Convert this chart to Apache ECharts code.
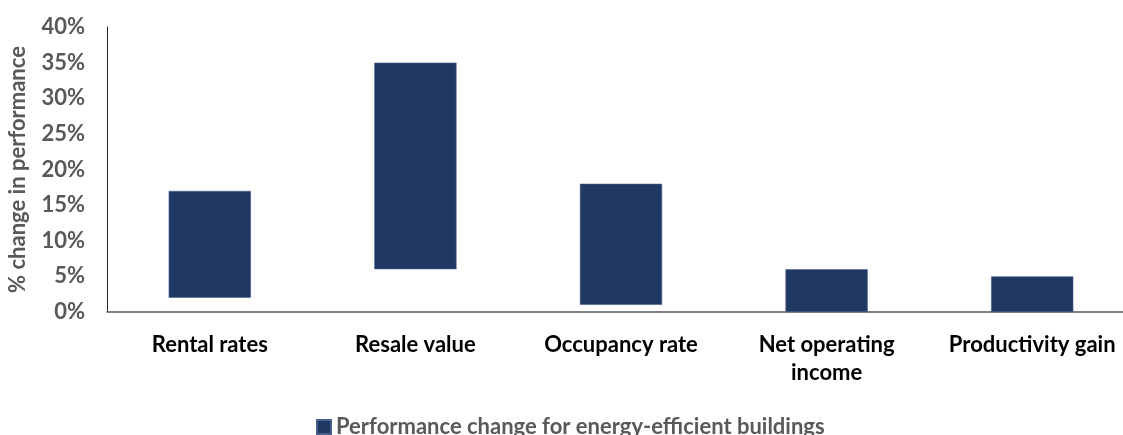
<!DOCTYPE html>
<html><head><meta charset="utf-8">
<script src="https://cdn.jsdelivr.net/npm/echarts@6/dist/echarts.min.js"></script>
<style>html,body{margin:0;padding:0;background:#fff}#c{width:1123px;height:435px}</style>
</head><body><div id="c"></div>
<script>
const categories = ['Rental rates', 'Resale value', 'Occupancy rate', 'Net operating\nincome', 'Productivity gain'];
const lowValues = [2, 6, 1, 0, 0];
const highValues = [17, 35, 18, 6, 5];
const seriesName = 'Performance change for energy-efficient buildings';
const yTicks = { min: 0, max: 40, interval: 5 };

const spans = highValues.map((h, i) => h - lowValues[i]);
const font = 'Lato, "Open Sans", sans-serif';
const chart = echarts.init(document.getElementById('c'), null, { renderer: 'canvas' });
chart.setOption({
  animation: false,
  grid: { left: 107, width: 1028, top: 27, bottom: 123, containLabel: false, outerBoundsMode: 'none' },
  legend: {
    data: [seriesName], left: 311, top: 411, icon: 'rect', itemWidth: 14, itemHeight: 14, itemGap: 6,
    textStyle: { fontFamily: font, fontWeight: 'bold', fontSize: 22, color: '#595959' }
  },
  xAxis: {
    type: 'category', data: categories,
    axisLine: { lineStyle: { color: '#595959', width: 1.5 } },
    axisTick: { show: false },
    axisLabel: { interval: 0, margin: 19, fontFamily: font, fontWeight: 'bold', fontSize: 22, color: '#000', lineHeight: 28 }
  },
  yAxis: {
    type: 'value', min: yTicks.min, max: yTicks.max, interval: yTicks.interval,
    name: '% change in performance', nameLocation: 'middle', nameRotate: 90, nameGap: 78,
    nameTextStyle: { fontFamily: font, fontWeight: 'bold', fontSize: 22, color: '#595959' },
    axisLine: { show: true, lineStyle: { color: '#262626', width: 1 } },
    axisTick: { show: false },
    splitLine: { show: false },
    axisLabel: { formatter: '{value}%', margin: 22, fontFamily: font, fontWeight: 'bold', fontSize: 22, color: '#595959' }
  },
  series: [
    { name: 'base', type: 'bar', stack: 's', data: lowValues, itemStyle: { color: 'transparent' }, barWidth: '40%', silent: true },
    { name: seriesName, type: 'bar', stack: 's', data: spans, barWidth: '40%',
      itemStyle: { color: '#203864', borderColor: '#4b5f8c', borderWidth: 0.6 } }
  ]
});
</script></body></html>
